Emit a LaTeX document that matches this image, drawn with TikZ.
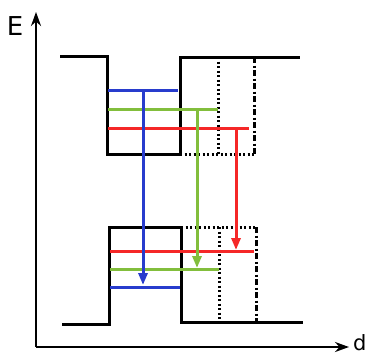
\documentclass[tikz,border=0pt]{standalone}
\usepackage{fontspec}
\setmainfont{DejaVu Sans}
\usetikzlibrary{arrows.meta}
\definecolor{cblue}{RGB}{40,60,205}
\definecolor{cgreen}{RGB}{130,190,60}
\definecolor{cred}{RGB}{245,40,40}
\tikzset{
  wall/.style={line width=3pt, black},
  dotwall/.style={line width=3pt, black, dash pattern=on 2pt off 2.5pt},
  dashdotwall/.style={line width=3pt, black, dash pattern=on 6pt off 2.5pt on 2pt off 2.5pt},
  level/.style={line width=3pt},
  trans/.style={line width=3pt, -{Triangle[length=12pt,width=9pt]}},
  axis/.style={line width=2.4pt, -{Stealth[length=14pt,width=10pt]}},
  lbl/.style={font=\fontsize{26}{26}\selectfont, inner sep=0pt}
}
\begin{document}
\begin{tikzpicture}[x=1pt,y=-1pt]
\useasboundingbox (0,0) rectangle (372,356);
% axes
\coordinate (O) at (36,347);
\coordinate (Etop) at (36,12);
\coordinate (dend) at (349,347);
\draw[axis] (O) -- (Etop);
\draw[axis] (O) -- (dend);
\node[lbl] (E) at (15,26) {E};
\node[lbl, font=\fontsize{21}{21}\selectfont, anchor=west] (d) at (353,343) {d};
% upper well
\draw[wall] (60,56) -- (107,56) -- (107,154) -- (180,154) -- (180,57) -- (300,57);
\draw[dotwall] (180,154) -- (254,154);
\draw[dotwall] (218,57) -- (218,154);
\draw[dashdotwall] (254,57) -- (254,154);
% lower barrier
\draw[wall] (62,324) -- (109,324) -- (109,227) -- (181,227) -- (181,322) -- (303,322);
\draw[dotwall] (181,227) -- (256,227);
\draw[dotwall] (219,227) -- (219,322);
\draw[dashdotwall] (256,227) -- (256,322);
% levels upper
\draw[level, cblue] (108,90) -- (178,90);
\draw[level, cgreen] (108,109) -- (218,109);
\draw[level, cred] (108,128) -- (249,128);
% levels lower
\draw[level, cred] (110,251) -- (254,251);
\draw[level, cgreen] (110,269) -- (219,269);
\draw[level, cblue] (110,287) -- (180,287);
% transitions
\coordinate (b1) at (143,90);
\coordinate (b2) at (143,285);
\coordinate (g1) at (197,109);
\coordinate (g2) at (197,268);
\coordinate (r1) at (236,128);
\coordinate (r2) at (236,250);
\draw[trans, cblue] (b1) -- (b2);
\draw[trans, cgreen] (g1) -- (g2);
\draw[trans, cred] (r1) -- (r2);
\end{tikzpicture}
\end{document}
